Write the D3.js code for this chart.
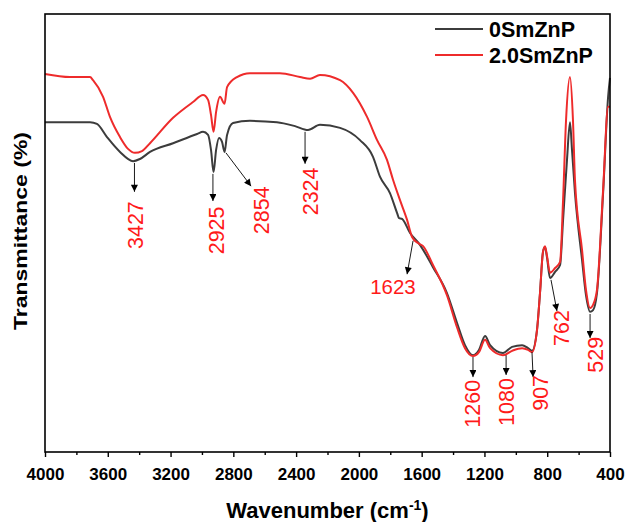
<!DOCTYPE html>
<html>
<head>
<meta charset="utf-8">
<script src="https://cdn.jsdelivr.net/npm/d3@7"></script>
<style>
  body { margin: 0; background: #fff; }
  text { font-family: Arial, "Liberation Sans", sans-serif; }
</style>
</head>
<body>
<script>
/* global d3 */

const width = 625;
const height = 522;
const margin = { top: 14, right: 15, bottom: 70, left: 45 };

// 0SmZnP
const wn0 = [4000, 3841, 3713, 3669, 3605, 3522, 3439, 3395, 3331, 3184, 3031, 2993, 2961, 2942, 2926, 2910, 2891,
  2872, 2856, 2840, 2802, 2694, 2522, 2407, 2324, 2248, 2120, 1993, 1910, 1865, 1802, 1757, 1744, 1725, 1674,
  1611, 1528, 1439, 1375, 1324, 1273, 1235, 1196, 1164, 1082, 1024, 960, 922, 897, 865, 846, 827, 814, 801, 782,
  750, 718, 699, 674, 655, 642, 623, 578, 553, 527, 508, 483, 444, 412, 400];
const t0 = [75.3, 75.3, 75.3, 74.9, 71.9, 68.5, 66.4, 66.9, 68.5, 70.5, 72.6, 73.1, 72.4, 68.9, 63.9, 68.9, 71.7,
  70.8, 68.5, 72.4, 75.1, 75.6, 75.3, 74.4, 73.5, 74.7, 74.0, 71.2, 67.4, 62.8, 59.1, 54.6, 53.4, 53.2, 50.0,
  47.3, 42.2, 36.3, 29.5, 24.4, 22.1, 23.3, 26.5, 24.4, 22.6, 24.0, 24.4, 23.7, 23.1, 27.9, 36.3, 45.7, 46.8,
  44.3, 39.7, 41.1, 42.7, 53.0, 66.7, 75.3, 68.9, 59.1, 43.8, 35.8, 32.0, 32.4, 36.3, 59.1, 81.1, 85.4];

// 2.0SmZnP
const wn2 = [4000, 3841, 3713, 3694, 3630, 3586, 3522, 3471, 3427, 3382, 3331, 3184, 3057, 2993, 2961, 2942, 2926,
  2910, 2885, 2856, 2840, 2777, 2694, 2503, 2375, 2311, 2248, 2120, 2037, 1948, 1884, 1821, 1782, 1738, 1693,
  1661, 1623, 1591, 1528, 1439, 1375, 1324, 1273, 1235, 1196, 1164, 1082, 1024, 960, 922, 897, 865, 846, 827,
  814, 801, 782, 750, 718, 699, 680, 655, 636, 623, 578, 553, 527, 508, 483, 444, 412, 400];
const t2 = [86.3, 85.6, 85.6, 84.9, 81.1, 76.5, 71.9, 69.2, 68.3, 68.7, 70.5, 76.3, 79.9, 81.5, 80.4, 76.9, 73.1,
  77.6, 81.1, 79.5, 83.3, 85.6, 86.5, 86.5, 85.6, 85.2, 86.1, 84.9, 82.0, 76.5, 71.2, 66.7, 62.1, 57.5, 53.0,
  49.1, 47.7, 47.0, 42.7, 35.8, 28.5, 23.7, 21.9, 22.8, 25.6, 23.7, 22.1, 23.1, 23.7, 23.3, 22.8, 27.9, 36.3,
  45.7, 47.0, 44.7, 40.9, 42.0, 43.4, 57.5, 75.8, 85.6, 75.8, 61.9, 46.1, 37.0, 32.9, 33.6, 37.0, 59.8, 78.8, 78.8];

const seriesNames = ['0SmZnP', '2.0SmZnP'];
const seriesColors = ['#3c3c3c', '#ee2b2b'];

const xTicks = [4000, 3600, 3200, 2800, 2400, 2000, 1600, 1200, 800, 400];

// peak labels: arrow from (wn, t) to (wn, t), label centre (wn, t), rotated or not
const peakLabels = ['3427', '2925', '2854', '2324', '1623', '1260', '1080', '907', '762', '529'];
const arrowFrom = [[3430, 66.0], [2930, 63.5], [2847, 68.3], [2343, 73.1], [1655, 48.2],
  [1273, 21.7], [1062, 22.1], [897, 22.8], [776, 39.3], [527, 31.5]];
const arrowTo = [[3430, 59.4], [2930, 57.3], [2687, 60.7], [2343, 65.8], [1693, 40.6],
  [1273, 17.1], [1062, 17.6], [890, 17.1], [738, 32.2], [527, 26.0]];
const labelAt = [[3423, 51.8], [2910, 50.6], [2624, 55.2], [2311, 59.5], [1783, 36.1],
  [1279, 11.0], [1062, 11.4], [846, 13.5], [712, 28.3], [495, 22.2]];
const labelRotated = [true, true, true, true, false, true, true, true, true, true];

const svg = d3.select('body').append('svg')
  .attr('width', width)
  .attr('height', height);

const x = d3.scaleLinear()
  .domain([4000, 400])
  .range([margin.left, width - margin.right]);

const y = d3.scaleLinear()
  .domain([0, 100])
  .range([height - margin.bottom, margin.top]);

const line = d3.line()
  .x(d => x(d[0]))
  .y(d => y(d[1]))
  .curve(d3.curveMonotoneX);

svg.append('defs').append('marker')
  .attr('id', 'arrow')
  .attr('viewBox', '0 0 10 10')
  .attr('refX', 10)
  .attr('refY', 5)
  .attr('markerUnits', 'userSpaceOnUse')
  .attr('markerWidth', 9)
  .attr('markerHeight', 7)
  .attr('orient', 'auto')
  .append('path')
    .attr('d', 'M0,0L10,5L0,10z')
    .attr('fill', '#000');

// curves
const seriesData = [d3.zip(wn0, t0), d3.zip(wn2, t2)];
svg.append('g')
  .selectAll('path')
  .data(seriesData)
  .enter().append('path')
    .attr('d', line)
    .attr('fill', 'none')
    .attr('stroke', (d, i) => seriesColors[i])
    .attr('stroke-width', 2)
    .attr('stroke-linejoin', 'round');

// frame
svg.append('rect')
  .attr('x', margin.left)
  .attr('y', margin.top)
  .attr('width', width - margin.left - margin.right)
  .attr('height', height - margin.top - margin.bottom)
  .attr('fill', 'none')
  .attr('stroke', '#000')
  .attr('stroke-width', 1.6);

// x axis
const xAxis = svg.append('g')
  .attr('transform', `translate(0,${height - margin.bottom})`);

xAxis.append('g')
  .call(d3.axisBottom(x).tickValues(d3.range(3800, 400, -400)).tickSize(3).tickFormat(''))
  .call(g => g.select('.domain').remove())
  .call(g => g.selectAll('line').attr('stroke-width', 1.4));

xAxis.append('g')
  .call(d3.axisBottom(x).tickValues(xTicks).tickSize(5).tickPadding(11).tickFormat(d3.format('d')))
  .call(g => g.select('.domain').remove())
  .call(g => g.selectAll('line').attr('stroke-width', 1.4))
  .call(g => g.selectAll('text')
    .style('font-size', '17px')
    .style('font-weight', 'bold')
    .attr('fill', '#000'));

const xTitle = svg.append('text')
  .attr('x', (margin.left + width - margin.right) / 2)
  .attr('y', 518)
  .attr('text-anchor', 'middle')
  .style('font-size', '22px')
  .style('font-weight', 'bold');
xTitle.append('tspan').text('Wavenumber (cm');
xTitle.append('tspan')
  .attr('dy', -8)
  .style('font-size', '14px')
  .text('-1');
xTitle.append('tspan')
  .attr('dy', 8)
  .text(')');

svg.append('text')
  .attr('transform', `translate(27,${(margin.top + height - margin.bottom) / 2 - 2}) rotate(-90)`)
  .attr('text-anchor', 'middle')
  .attr('textLength', 198)
  .attr('lengthAdjust', 'spacingAndGlyphs')
  .style('font-size', '19px')
  .style('font-weight', 'bold')
  .text('Transmittance (%)');

// legend
const legend = svg.append('g')
  .selectAll('g')
  .data(seriesNames)
  .enter().append('g')
    .attr('transform', (d, i) => `translate(435,${29 + i * 26})`);

legend.append('line')
  .attr('x1', 0)
  .attr('x2', 48)
  .attr('stroke', (d, i) => seriesColors[i])
  .attr('stroke-width', 2);

legend.append('text')
  .attr('x', 54)
  .attr('y', 8)
  .style('font-size', '21.5px')
  .style('font-weight', 'bold')
  .text(d => d);

// peak annotations
const notes = svg.append('g')
  .selectAll('g')
  .data(peakLabels)
  .enter().append('g');

notes.append('line')
  .attr('x1', (d, i) => x(arrowFrom[i][0]))
  .attr('y1', (d, i) => y(arrowFrom[i][1]))
  .attr('x2', (d, i) => x(arrowTo[i][0]))
  .attr('y2', (d, i) => y(arrowTo[i][1]))
  .attr('stroke', '#000')
  .attr('stroke-width', 0.9)
  .attr('marker-end', 'url(#arrow)');

notes.append('text')
  .attr('transform', (d, i) => labelRotated[i]
    ? `translate(${x(labelAt[i][0])},${y(labelAt[i][1])}) rotate(-90)`
    : `translate(${x(labelAt[i][0])},${y(labelAt[i][1])})`)
  .attr('text-anchor', 'middle')
  .attr('dy', (d, i) => labelRotated[i] ? '0.36em' : 0)
  .attr('fill', '#ff1a1a')
  .style('font-size', (d, i) => labelRotated[i] ? '21.5px' : '20.5px')
  .text(d => d);
</script>
</body>
</html>
